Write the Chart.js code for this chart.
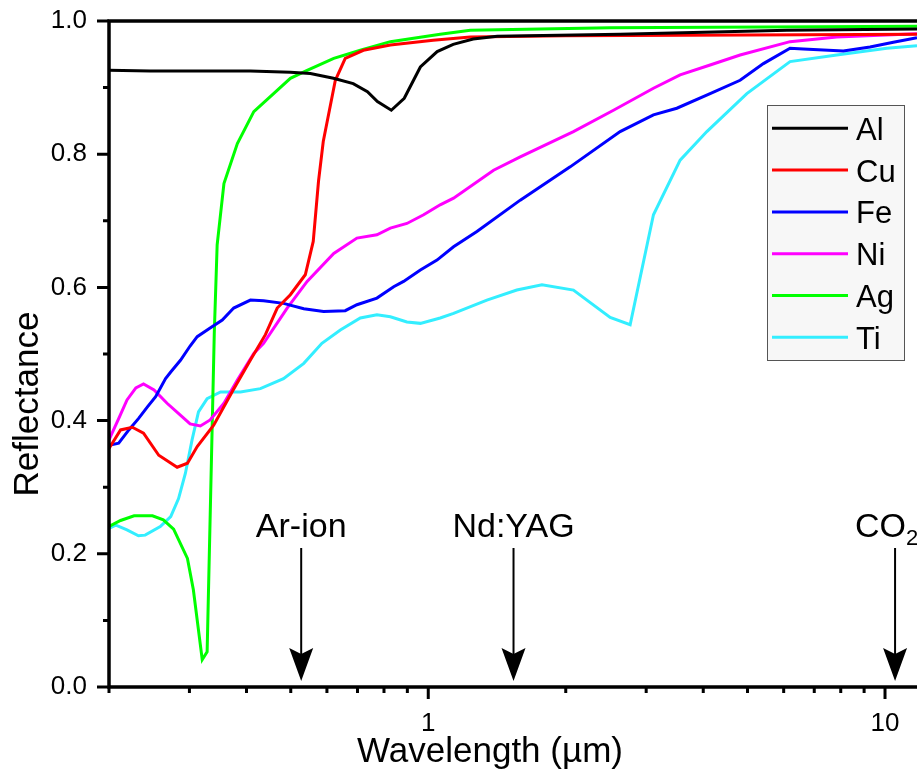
<!DOCTYPE html>
<html>
<head>
<meta charset="utf-8">
<title>Reflectance vs wavelength</title>
<script src="https://cdn.jsdelivr.net/npm/chart.js@4.4.0/dist/chart.umd.min.js"></script>
<style>
  html, body { margin: 0; padding: 0; background: #fff; overflow: hidden; }
  #wrap { width: 917px; height: 772px; }
</style>
</head>
<body>
<div id="wrap"><canvas id="chart"></canvas></div>
<script>
// wavelength (µm) and reflectance
const alWl = [0.2, 0.246, 0.317, 0.408, 0.499, 0.552, 0.620, 0.685, 0.736, 0.774, 0.830, 0.886, 0.961, 1.046, 1.134, 1.254, 1.416, 2.63, 6.10, 11.75];
const alR  = [0.926, 0.925, 0.925, 0.925, 0.923, 0.921, 0.914, 0.906, 0.894, 0.879, 0.866, 0.884, 0.931, 0.954, 0.965, 0.973, 0.977, 0.980, 0.986, 0.988];

const cuWl = [0.2, 0.212, 0.225, 0.238, 0.257, 0.282, 0.297, 0.312, 0.339, 0.374, 0.408, 0.440, 0.467, 0.499, 0.538, 0.560, 0.575, 0.589, 0.626, 0.658, 0.721, 0.826, 1.025, 1.236, 2.0, 5.0, 11.75];
const cuR  = [0.358, 0.386, 0.390, 0.381, 0.348, 0.330, 0.336, 0.361, 0.393, 0.446, 0.491, 0.529, 0.569, 0.589, 0.619, 0.669, 0.759, 0.819, 0.911, 0.944, 0.956, 0.964, 0.971, 0.976, 0.978, 0.979, 0.980];

const feWl = [0.2, 0.210, 0.221, 0.232, 0.243, 0.253, 0.266, 0.273, 0.287, 0.301, 0.312, 0.333, 0.354, 0.375, 0.408, 0.436, 0.482, 0.534, 0.590, 0.658, 0.698, 0.772, 0.840, 0.883, 0.961, 1.045, 1.136, 1.278, 1.590, 2.045, 2.631, 3.112, 3.501, 4.141, 4.817, 5.417, 6.196, 6.625, 8.104, 9.272, 10.43, 11.75];
const feR  = [0.363, 0.366, 0.386, 0.403, 0.421, 0.436, 0.463, 0.473, 0.491, 0.512, 0.526, 0.539, 0.551, 0.569, 0.581, 0.580, 0.576, 0.568, 0.564, 0.565, 0.574, 0.584, 0.601, 0.609, 0.626, 0.641, 0.661, 0.684, 0.731, 0.781, 0.834, 0.859, 0.869, 0.891, 0.911, 0.936, 0.959, 0.958, 0.955, 0.961, 0.968, 0.975];

const niWl = [0.2, 0.210, 0.219, 0.229, 0.238, 0.251, 0.268, 0.287, 0.301, 0.317, 0.333, 0.357, 0.382, 0.415, 0.436, 0.491, 0.543, 0.621, 0.698, 0.772, 0.826, 0.898, 0.977, 1.062, 1.136, 1.390, 1.590, 2.079, 2.544, 3.112, 3.560, 4.141, 4.817, 6.196, 7.840, 11.75];
const niR  = [0.371, 0.403, 0.431, 0.449, 0.455, 0.446, 0.426, 0.408, 0.395, 0.392, 0.401, 0.426, 0.461, 0.501, 0.516, 0.569, 0.609, 0.651, 0.674, 0.679, 0.689, 0.696, 0.709, 0.724, 0.734, 0.776, 0.796, 0.834, 0.866, 0.899, 0.919, 0.934, 0.949, 0.969, 0.976, 0.981];

const agWl = [0.2, 0.212, 0.227, 0.249, 0.263, 0.277, 0.297, 0.306, 0.320, 0.328, 0.340, 0.345, 0.357, 0.382, 0.415, 0.499, 0.543, 0.621, 0.710, 0.826, 1.062, 1.236, 2.5, 11.75];
const agR  = [0.241, 0.250, 0.257, 0.257, 0.251, 0.237, 0.193, 0.146, 0.041, 0.053, 0.53, 0.664, 0.756, 0.816, 0.864, 0.914, 0.926, 0.944, 0.956, 0.969, 0.980, 0.986, 0.990, 0.992];

const tiWl = [0.2, 0.207, 0.219, 0.232, 0.240, 0.259, 0.273, 0.284, 0.294, 0.304, 0.314, 0.328, 0.351, 0.388, 0.429, 0.482, 0.534, 0.585, 0.642, 0.710, 0.772, 0.826, 0.898, 0.961, 1.062, 1.136, 1.344, 1.563, 1.774, 2.079, 2.502, 2.767, 3.112, 3.560, 4.073, 4.983, 6.196, 7.840, 10.09, 11.75];
const tiR  = [0.238, 0.243, 0.236, 0.227, 0.228, 0.241, 0.256, 0.283, 0.321, 0.371, 0.413, 0.433, 0.443, 0.443, 0.448, 0.463, 0.486, 0.516, 0.536, 0.554, 0.559, 0.556, 0.548, 0.546, 0.554, 0.561, 0.581, 0.596, 0.604, 0.596, 0.555, 0.544, 0.709, 0.791, 0.834, 0.891, 0.939, 0.949, 0.959, 0.963];

const seriesNames  = ['Al', 'Cu', 'Fe', 'Ni', 'Ag', 'Ti'];
const seriesWl     = [alWl, cuWl, feWl, niWl, agWl, tiWl];
const seriesR      = [alR, cuR, feR, niR, agR, tiR];
const seriesColors = ['#000000', '#ff0000', '#0000ff', '#ff00ff', '#00ff00', '#33eeff'];

// axis ticks
const xTicks = [0.2, 0.3, 0.4, 0.5, 0.6, 0.7, 0.8, 0.9, 1, 2, 3, 4, 5, 6, 7, 8, 9, 10];
const xLabelTicks = [1, 10];
const yTicks = [0, 0.1, 0.2, 0.3, 0.4, 0.5, 0.6, 0.7, 0.8, 0.9, 1.0];
const yLabelTicks = [0, 0.2, 0.4, 0.6, 0.8, 1.0];

// laser lines marked with arrows
const laserNames = ['Ar-ion', 'Nd:YAG', 'CO'];
const laserSubs  = ['', '', '2'];
const laserWl    = [0.527, 1.537, 10.52];

const FONT = '"Liberation Sans", Arial, sans-serif';
Chart.defaults.font.family = FONT;
Chart.defaults.color = '#000';

// frame, tick marks, axis titles, arrows and legend
const decorations = {
  id: 'decorations',
  afterDatasetsDraw(chart) {
    const { ctx, chartArea: a, scales: { x, y } } = chart;
    ctx.save();
    ctx.strokeStyle = '#000';
    ctx.fillStyle = '#000';

    // frame (left, bottom, top)
    ctx.lineWidth = 3.5;
    ctx.beginPath();
    ctx.moveTo(a.left, a.top);
    ctx.lineTo(a.right, a.top);
    ctx.moveTo(a.left, a.top - 1.75);
    ctx.lineTo(a.left, a.bottom + 1.75);
    ctx.moveTo(a.left - 1.75, a.bottom);
    ctx.lineTo(a.right, a.bottom);
    ctx.stroke();

    // tick marks, pointing outwards
    ctx.lineWidth = 3;
    ctx.beginPath();
    yTicks.forEach(v => {
      const py = y.getPixelForValue(v);
      const len = yLabelTicks.includes(v) ? 12 : 6;
      ctx.moveTo(a.left - len, py);
      ctx.lineTo(a.left, py);
    });
    xTicks.forEach(v => {
      const px = x.getPixelForValue(v);
      const len = xLabelTicks.includes(v) ? 12 : 6;
      ctx.moveTo(px, a.bottom);
      ctx.lineTo(px, a.bottom + len);
    });
    ctx.stroke();

    // axis titles
    ctx.font = '35px ' + FONT;
    ctx.textAlign = 'center';
    ctx.textBaseline = 'alphabetic';
    ctx.fillText('Wavelength (µm)', 490, 762);
    ctx.save();
    ctx.translate(38, 404);
    ctx.rotate(-Math.PI / 2);
    ctx.fillText('Reflectance', 0, 0);
    ctx.restore();

    // laser arrows
    laserNames.forEach((name, i) => {
      const px = x.getPixelForValue(laserWl[i]);
      const top = 548, tip = a.bottom - 6;
      ctx.lineWidth = 2;
      ctx.beginPath();
      ctx.moveTo(px, top);
      ctx.lineTo(px, tip - 25);
      ctx.stroke();
      ctx.beginPath();
      ctx.moveTo(px, tip);
      ctx.lineTo(px - 12, tip - 33);
      ctx.lineTo(px, tip - 27);
      ctx.lineTo(px + 12, tip - 33);
      ctx.closePath();
      ctx.fill();

      ctx.font = '34px ' + FONT;
      if (laserSubs[i]) {
        ctx.textAlign = 'left';
        const x0 = px - 40;
        ctx.fillText(name, x0, 537);
        const w = ctx.measureText(name).width;
        ctx.font = '22px ' + FONT;
        ctx.fillText(laserSubs[i], x0 + w, 545);
      } else {
        ctx.textAlign = 'center';
        ctx.fillText(name, px, 537);
      }
    });

    // legend box
    const bx = 767, by = 105, bw = 137, bh = 255;
    ctx.fillStyle = '#f7f7f7';
    ctx.fillRect(bx, by, bw, bh);
    ctx.lineWidth = 1;
    ctx.strokeStyle = '#555';
    ctx.strokeRect(bx + 0.5, by + 0.5, bw, bh);
    ctx.font = '31px ' + FONT;
    ctx.textAlign = 'left';
    chart.data.datasets.forEach((ds, i) => {
      const ly = 128.3 + i * 41.8;
      ctx.strokeStyle = ds.borderColor;
      ctx.lineWidth = 3;
      ctx.beginPath();
      ctx.moveTo(772, ly);
      ctx.lineTo(848, ly);
      ctx.stroke();
      ctx.fillStyle = '#000';
      ctx.fillText(ds.label, 856, ly + 11.5);
    });
    ctx.restore();
  }
};

new Chart(document.getElementById('chart'), {
  type: 'line',
  data: {
    datasets: seriesNames.map((name, i) => ({
      label: name,
      data: seriesWl[i].map((w, j) => ({ x: w, y: seriesR[i][j] })),
      borderColor: seriesColors[i],
      backgroundColor: seriesColors[i],
      borderWidth: 3,
      pointRadius: 0,
      tension: 0,
      fill: false
    }))
  },
  options: {
    responsive: true,
    maintainAspectRatio: false,
    animation: false,
    devicePixelRatio: 1,
    layout: { padding: { top: 21, right: 0, left: 0, bottom: 0 } },
    plugins: {
      legend: { display: false },
      tooltip: { enabled: false }
    },
    scales: {
      x: {
        type: 'logarithmic',
        min: 0.2,
        max: 11.75,
        grid: { display: false, drawTicks: false },
        border: { display: false },
        afterBuildTicks: s => { s.ticks = xTicks.map(v => ({ value: v })); },
        afterFit: s => { s.height = 85; s.paddingLeft = 0; s.paddingRight = 0; },
        ticks: {
          autoSkip: false,
          maxRotation: 0,
          padding: 21,
          font: { size: 26 },
          color: '#000',
          callback: v => xLabelTicks.includes(v) ? String(v) : ''
        }
      },
      y: {
        min: 0,
        max: 1,
        grid: { display: false, drawTicks: false },
        border: { display: false },
        afterBuildTicks: s => { s.ticks = yTicks.map(v => ({ value: v })); },
        afterFit: s => { s.width = 109; s.paddingTop = 0; s.paddingBottom = 0; },
        ticks: {
          padding: 22,
          font: { size: 26 },
          color: '#000',
          callback: v => yLabelTicks.includes(v) ? v.toFixed(1) : ''
        }
      }
    }
  },
  plugins: [decorations]
});
</script>
</body>
</html>
